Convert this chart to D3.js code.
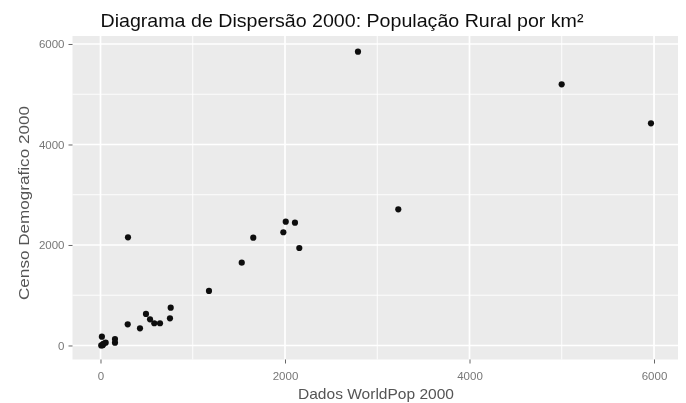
<!DOCTYPE html>
<html>
<head>
<meta charset="utf-8">
<script src="https://cdn.jsdelivr.net/npm/d3@7"></script>
<style>
  html, body { margin: 0; padding: 0; background: #fff; }
  svg { display: block; font-family: "Liberation Sans", Arial, sans-serif; }
</style>
</head>
<body>
<svg id="chart" width="686" height="403"></svg>
<script>
// ---- data ----
const titleText = "Diagrama de Dispersão 2000: População Rural por km²";
const xTitle = "Dados WorldPop 2000";
const yTitle = "Censo Demografico 2000";
const xTicks = [0, 2000, 4000, 6000];
const yTicks = [0, 2000, 4000, 6000];
const xMinor = [1000, 3000, 5000];
const yMinor = [1000, 3000, 5000];
const worldpop = [2791, 4999, 5967, 3228, 298, 2008, 2108, 1982, 2155, 1656, 1531, 1176,
                  761, 753, 493, 537, 583, 645, 428, 295, 157, 157, 15, 25, 30, 20, 8, 56];
const censo    = [5847, 5198, 4422, 2710, 2153, 2464, 2444, 2253, 1940, 2145, 1648, 1085,
                  752, 541, 627, 521, 442, 442, 342, 422, 129, 56, 175, 10, 30, 5, 2, 56];

const W = 686, H = 403;
const panel = { left: 72.5, right: 678, top: 36, bottom: 359.5 };

const svg = d3.select("#chart");
const defs = svg.append("defs");
defs.append("filter").attr("id", "soft")
  .attr("x", "-10%").attr("y", "-10%").attr("width", "120%").attr("height", "120%")
  .append("feGaussianBlur").attr("stdDeviation", 0.55);

const x = d3.scaleLinear().domain([-303.5, 6260]).range([panel.left, panel.right]);
const y = d3.scaleLinear().domain([-279, 6159]).range([panel.bottom, panel.top]);

const g = svg.append("g").attr("filter", "url(#soft)");

// panel background
g.append("rect")
  .attr("x", panel.left).attr("y", panel.top)
  .attr("width", panel.right - panel.left).attr("height", panel.bottom - panel.top)
  .attr("fill", "#EBEBEB");

// minor grid
g.selectAll("line.xminor").data(xMinor).join("line")
  .attr("x1", d => x(d)).attr("x2", d => x(d))
  .attr("y1", panel.top).attr("y2", panel.bottom)
  .attr("stroke", "#fff").attr("stroke-width", 0.9);
g.selectAll("line.yminor").data(yMinor).join("line")
  .attr("y1", d => y(d)).attr("y2", d => y(d))
  .attr("x1", panel.left).attr("x2", panel.right)
  .attr("stroke", "#fff").attr("stroke-width", 0.9);
// major grid
g.selectAll("line.xmajor").data(xTicks).join("line")
  .attr("x1", d => x(d)).attr("x2", d => x(d))
  .attr("y1", panel.top).attr("y2", panel.bottom)
  .attr("stroke", "#fff").attr("stroke-width", 1.7);
g.selectAll("line.ymajor").data(yTicks).join("line")
  .attr("y1", d => y(d)).attr("y2", d => y(d))
  .attr("x1", panel.left).attr("x2", panel.right)
  .attr("stroke", "#fff").attr("stroke-width", 1.7);

// axes
const xAxis = d3.axisBottom(x).tickValues(xTicks).tickSize(4).tickPadding(8).tickFormat(d3.format("d"));
const yAxis = d3.axisLeft(y).tickValues(yTicks).tickSize(4).tickPadding(4).tickFormat(d3.format("d"));

const gx = g.append("g").attr("transform", `translate(0,${panel.bottom})`).call(xAxis);
const gy = g.append("g").attr("transform", `translate(${panel.left},0)`).call(yAxis);
[gx, gy].forEach(a => {
  a.select(".domain").remove();
  a.selectAll(".tick line").attr("stroke", "#666").attr("stroke-width", 1);
  a.selectAll(".tick text").attr("fill", "#777").attr("font-size", 11.5)
    .attr("font-family", "'Liberation Sans', Arial, sans-serif");
});

// points
g.selectAll("circle.pt").data(worldpop.map((v, i) => [v, censo[i]])).join("circle")
  .attr("class", "pt")
  .attr("cx", d => x(d[0])).attr("cy", d => y(d[1]))
  .attr("r", 3.1).attr("fill", "#111");

// titles
g.append("text")
  .attr("x", 342).attr("y", 27)
  .attr("text-anchor", "middle")
  .attr("font-size", 18.5).attr("fill", "#111")
  .attr("textLength", 483).attr("lengthAdjust", "spacingAndGlyphs")
  .text(titleText);

g.append("text")
  .attr("x", 376).attr("y", 399)
  .attr("text-anchor", "middle")
  .attr("font-size", 14.5).attr("fill", "#555")
  .attr("textLength", 156).attr("lengthAdjust", "spacingAndGlyphs")
  .text(xTitle);

g.append("text")
  .attr("transform", `translate(29,203) rotate(-90)`)
  .attr("text-anchor", "middle")
  .attr("font-size", 15).attr("fill", "#555")
  .attr("textLength", 194).attr("lengthAdjust", "spacingAndGlyphs")
  .text(yTitle);
</script>
</body>
</html>
